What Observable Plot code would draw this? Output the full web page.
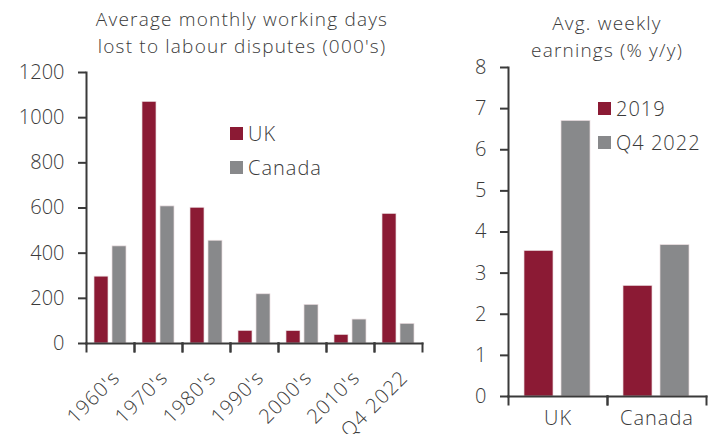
<!DOCTYPE html>
<html><head><meta charset="utf-8">
<script src="https://cdn.jsdelivr.net/npm/d3@7"></script>
<script src="https://cdn.jsdelivr.net/npm/@observablehq/plot@0.6"></script>
<style>
body{margin:0;background:#fff;}
#wrap{position:relative;width:723px;height:434px;overflow:hidden;font-family:"Open Sans",sans-serif;font-weight:300;color:#3a3a3a;}
#wrap svg{position:absolute;top:0;overflow:visible;}
.title{position:absolute;text-align:center;font-size:19px;letter-spacing:1.2px;line-height:27px;white-space:nowrap;transform:translateX(-50%);}
.legend{position:absolute;font-size:20px;letter-spacing:1px;}
.legend .row{display:flex;align-items:center;height:34px;}
.sw{width:13px;height:13px;margin-right:5px;}
</style></head><body><div id="wrap"></div>
<script>
const periods = ["1960's","1970's","1980's","1990's","2000's","2010's","Q4 2022"];
const ukDays = [296,1070,601,56,55,38,574];
const canadaDays = [430,607,455,218,171,106,87];
const daysSeries = ["UK","Canada"];
const daysTicks = [0,200,400,600,800,1000,1200];
const daysTitle = ["Average monthly working days","lost to labour disputes (000's)"];

const countries = ["UK","Canada"];
const earnings2019 = [3.54,2.69];
const earningsQ42022 = [6.70,3.68];
const earnSeries = ["2019","Q4 2022"];
const earnTicks = [0,1,2,3,4,5,6,7,8];
const earnTitle = ["Avg. weekly","earnings (% y/y)"];

const colors = ["#8b1a34","#88898b"];
const ink = "#3a3a3a";
const axisInk = "#3a3a3a";

const daysData = periods.flatMap((p,i)=>[
  {period:p, series:daysSeries[0], value:ukDays[i]},
  {period:p, series:daysSeries[1], value:canadaDays[i]}
]);
const earnData = countries.flatMap((c,i)=>[
  {country:c, series:earnSeries[0], value:earnings2019[i]},
  {country:c, series:earnSeries[1], value:earningsQ42022[i]}
]);

const style = {fontFamily:"'Open Sans', sans-serif", fontSize:"20px", fontWeight:300, color:ink, background:"transparent"};

function axes(h, ticks){
  return [
    Plot.frame({anchor:"bottom", stroke:axisInk, strokeWidth:2}),
    Plot.frame({anchor:"left", stroke:axisInk, strokeWidth:2, insetTop:h, insetBottom:-8}),
    Plot.frame({anchor:"right", stroke:axisInk, strokeWidth:2, insetTop:h, insetBottom:-8}),
    Plot.frame({anchor:"left", stroke:axisInk, strokeWidth:2, facetAnchor:"left"}),
    Plot.axisY({ticks, tickSize:8, tickPadding:14, tickFormat:d=>String(d), label:null, stroke:axisInk, strokeWidth:2, fill:ink})
  ];
}

const left = Plot.plot({
  width:430, height:434,
  marginTop:72, marginBottom:91, marginLeft:86, marginRight:8,
  style,
  fx:{domain:periods, padding:0, label:null, axis:null},
  x:{domain:daysSeries, paddingInner:0.21, paddingOuter:0.37, axis:null},
  y:{domain:[0,1200], label:null},
  color:{domain:daysSeries, range:colors},
  marks:[
    Plot.barY(daysData,{fx:"period", x:"series", y:"value", fill:"series", stroke:"#eadde0", strokeWidth:0.7}),
    ...axes(271, daysTicks),
    Plot.text(periods,{fx:d=>d, text:d=>d, frameAnchor:"bottom", rotate:-45, textAnchor:"end", lineAnchor:"middle", dx:6, dy:31, fontSize:20, fill:ink})
  ]
});

const right = Plot.plot({
  width:293, height:434,
  marginTop:67, marginBottom:38, marginLeft:78, marginRight:17,
  style,
  fx:{domain:countries, padding:0, label:null, axis:null},
  x:{domain:earnSeries, paddingInner:0.21, paddingOuter:0.41, axis:null},
  y:{domain:[0,8], label:null},
  color:{domain:earnSeries, range:colors},
  marks:[
    Plot.barY(earnData,{fx:"country", x:"series", y:"value", fill:"series", stroke:"#eadde0", strokeWidth:0.7}),
    ...axes(329, earnTicks),
    Plot.text(countries,{fx:d=>d, text:d=>d, frameAnchor:"bottom", lineAnchor:"top", dy:14, fontSize:20, fill:ink})
  ]
});

const wrap = document.getElementById("wrap");
left.style.left = "0px";
right.style.left = "430px";
wrap.appendChild(left);
wrap.appendChild(right);
wrap.querySelectorAll("svg text").forEach(t=>{ if(!/\d/.test(t.textContent) || /[A-Za-z]/.test(t.textContent)) t.style.letterSpacing = "1px"; });

function addTitle(lines, cx, top){
  const d = document.createElement("div");
  d.className = "title";
  d.style.left = cx+"px"; d.style.top = top+"px";
  d.innerHTML = lines.join("<br>");
  wrap.appendChild(d);
}
addTitle(daysTitle, 242, 6);
addTitle(earnTitle, 607, 10);

function addLegend(names, x, y){
  const d = document.createElement("div");
  d.className = "legend";
  d.style.left = x+"px"; d.style.top = y+"px";
  names.forEach((n,i)=>{
    const r = document.createElement("div"); r.className="row";
    const s = document.createElement("span"); s.className="sw"; s.style.background = colors[i];
    const t = document.createElement("span"); t.textContent = n;
    r.appendChild(s); r.appendChild(t); d.appendChild(r);
  });
  wrap.appendChild(d);
}
addLegend(daysSeries, 230, 116);
addLegend(earnSeries, 598, 91);
</script></body></html>
